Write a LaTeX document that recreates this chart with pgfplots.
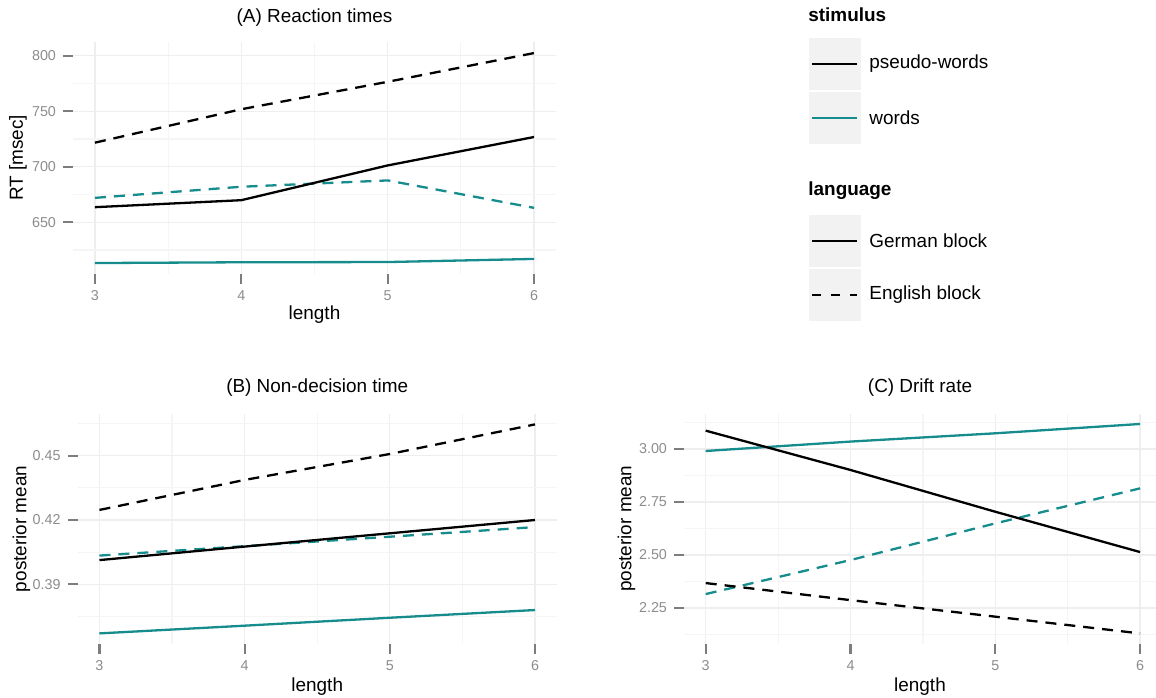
\documentclass[border=0pt]{standalone}
\usepackage{fontspec}
\setmainfont{Liberation Sans}
\usepackage{pgfplots}
\pgfplotsset{compat=1.18}
\definecolor{tealc}{RGB}{22,140,140}
\definecolor{tickgray}{RGB}{125,125,125}
\definecolor{labgray}{RGB}{140,140,140}
\definecolor{gridmaj}{RGB}{238,238,238}
\definecolor{gridmin}{RGB}{245,245,245}
\definecolor{keybg}{RGB}{242,242,242}

% length, pseudo German, pseudo English, words German, words English
\pgfplotstableread{
len  pg     pe     wg     we
3    663.6  721.7  613.3  672.0
4    669.9  751.8  614.0  682.0
5    701.2  776.5  614.2  687.7
6    726.8  802.4  617.0  663.0
}\tabRT
\pgfplotstableread{
len  pg      pe      wg      we
3    0.4013  0.4247  0.3671  0.4034
4    0.4076  0.4387  0.3707  0.4078
5    0.4138  0.4508  0.3744  0.4122
6    0.4200  0.4646  0.3780  0.4167
}\tabND
\pgfplotstableread{
len  pg      pe      wg      we
3    3.0865  2.3675  2.9906  2.3156
4    2.9010  2.2870  3.0350  2.4760
5    2.7040  2.2090  3.0740  2.6490
6    2.5138  2.1300  3.1180  2.8143
}\tabDR

\tikzset{
  pg/.style={black, line width=1.15bp, solid},
  pe/.style={black, line width=1.15bp, dash pattern=on 5.5bp off 4bp},
  wg/.style={tealc, line width=1.15bp, solid},
  we/.style={tealc, line width=1.15bp, dash pattern=on 5.5bp off 4bp},
}
\pgfplotsset{
  panel/.style={
    scale only axis, anchor=south west,
    axis line style={draw=none},
    tick pos=left, tick align=outside,
    major tick length=5bp, minor tick length=0pt,
    tick style={draw=tickgray, line width=1.1bp},
    grid=both,
    major grid style={draw=gridmaj, line width=0.6bp},
    minor grid style={draw=gridmin, line width=0.6bp},
    xmin=2.85, xmax=6.15,
    xtick={3,4,5,6}, minor xtick={3.5,4.5,5.5},
    ticklabel style={font=\fontsize{7.2}{8}\selectfont, text=labgray},
    /pgf/number format/assume math mode=true,
    label style={font=\fontsize{9.5}{11}\selectfont},
    title style={font=\fontsize{9.5}{11}\selectfont, anchor=center},
    xlabel={length},
    clip=false,
  },
}

\begin{document}
\begin{tikzpicture}
\path[use as bounding box] (0,0) rectangle (578bp,349bp);

% (A) Reaction times
\begin{axis}[panel,
  at={(36.5bp,212.2bp)}, width=241.5bp, height=115.55bp,
  ymin=603.8, ymax=811.9,
  ytick={650,700,750,800}, yticklabels={650,700,750,800},
  minor ytick={625,675,725,775},
  title={(A) Reaction times},
  title style={at={(axis description cs:0.5,1.058)}},
  ylabel={RT [msec]},
  xlabel style={at={(axis description cs:0.5,-0.1796)}, anchor=center},
  ylabel style={at={(axis description cs:-0.1139,0.5)}, anchor=center},
]
\addplot[wg] table[x=len,y=wg]{\tabRT};
\addplot[we] table[x=len,y=we]{\tabRT};
\addplot[pg] table[x=len,y=pg]{\tabRT};
\addplot[pe] table[x=len,y=pe]{\tabRT};
\end{axis}

% (B) Non-decision time
\begin{axis}[panel,
  at={(38.85bp,27.05bp)}, width=239.55bp, height=115bp,
  ymin=0.3622, ymax=0.4695,
  ytick={0.39,0.42,0.45}, yticklabels={0.39,0.42,0.45},
  minor ytick={0.375,0.405,0.435,0.465},
  title={(B) Non-decision time},
  title style={at={(axis description cs:0.5,1.064)}},
  ylabel={posterior mean},
  xlabel style={at={(axis description cs:0.5,-0.187)}, anchor=center},
  ylabel style={at={(axis description cs:-0.1175,0.5)}, anchor=center},
]
\addplot[wg] table[x=len,y=wg]{\tabND};
\addplot[we] table[x=len,y=we]{\tabND};
\addplot[pg] table[x=len,y=pg]{\tabND};
\addplot[pe] table[x=len,y=pe]{\tabND};
\end{axis}

% (C) Drift rate
\begin{axis}[panel,
  at={(342bp,27.1bp)}, width=236bp, height=115.1bp,
  xmax=6.11,
  ymin=2.081, ymax=3.167,
  ytick={2.25,2.5,2.75,3}, yticklabels={2.25,2.50,2.75,3.00},
  minor ytick={2.125,2.375,2.625,2.875,3.125},
  title={(C) Drift rate},
  title style={at={(axis description cs:0.5,1.062)}},
  ylabel={posterior mean},
  xlabel style={at={(axis description cs:0.5,-0.187)}, anchor=center},
  ylabel style={at={(axis description cs:-0.1218,0.5)}, anchor=center},
]
\addplot[wg] table[x=len,y=wg]{\tabDR};
\addplot[we] table[x=len,y=we]{\tabDR};
\addplot[pg] table[x=len,y=pg]{\tabDR};
\addplot[pe] table[x=len,y=pe]{\tabDR};
\end{axis}

% Legend
\begin{scope}[every node/.style={inner sep=0pt, anchor=west, font=\fontsize{9.5}{11}\selectfont}]
\node at (404bp,341.5bp) {\bfseries stimulus};
\fill[keybg] (404.5bp,304bp) rectangle (430.5bp,330bp);
\fill[keybg] (404.5bp,277bp) rectangle (430.5bp,303bp);
\draw[pg] (406bp,317bp) -- (428.5bp,317bp);
\draw[wg] (406bp,290bp) -- (428.5bp,290bp);
\node at (434.5bp,317bp) {pseudo-words};
\node at (434.5bp,290bp) {words};
\node at (404bp,253.5bp) {\bfseries language};
\fill[keybg] (404.5bp,215.5bp) rectangle (430.5bp,241.5bp);
\fill[keybg] (404.5bp,188.5bp) rectangle (430.5bp,214.5bp);
\draw[pg] (406bp,228.5bp) -- (428.5bp,228.5bp);
\draw[black, line width=1.15bp, dash pattern=on 4.5bp off 5bp] (406bp,201.5bp) -- (428.5bp,201.5bp);
\node at (434.5bp,228.5bp) {German block};
\node at (434.5bp,201.5bp) {English block};
\end{scope}
\end{tikzpicture}
\end{document}
